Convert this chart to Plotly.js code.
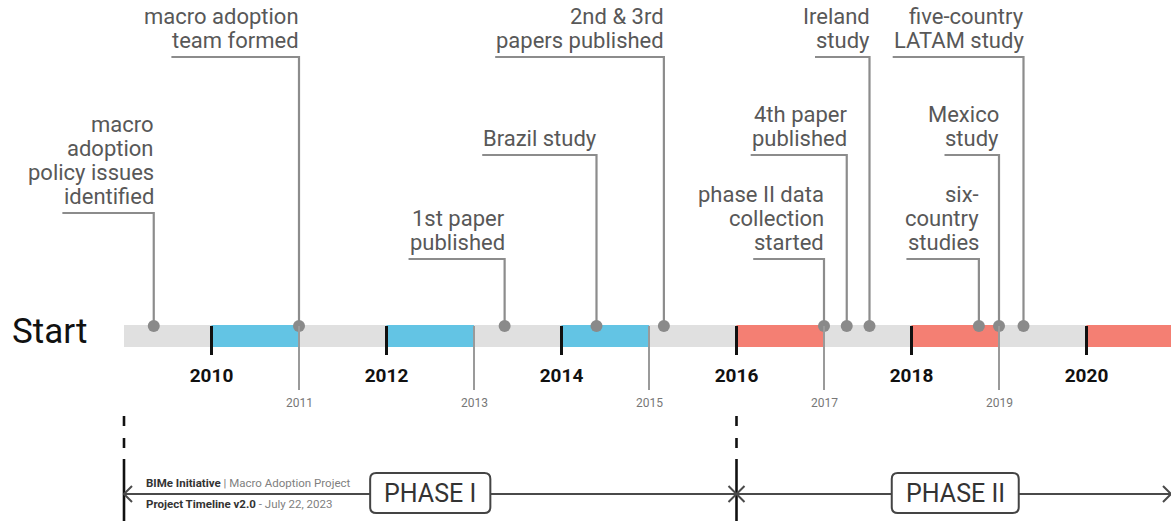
<!DOCTYPE html>
<html><head><meta charset="utf-8">
<script src="https://cdn.plot.ly/plotly-3.0.1.min.js"></script>
<style>html,body{margin:0;padding:0;background:#fff;} #chart{width:1171px;height:521px;}</style>
</head><body><div id="chart"></div>
<script>
// ---------------- DATA ----------------
const eventDates = [2009.34, 2011.0, 2013.35, 2014.4, 2015.17, 2017.0, 2017.26, 2017.52, 2018.77, 2019.0, 2019.28];
const eventLabels = [
  "macro\nadoption\npolicy issues\nidentified",
  "macro adoption\nteam formed",
  "1st paper\npublished",
  "Brazil study",
  "2nd & 3rd\npapers published",
  "phase II data\ncollection\nstarted",
  "4th paper\npublished",
  "Ireland\nstudy",
  "six-\ncountry\nstudies",
  "Mexico\nstudy",
  "five-country\nLATAM study"
];
const majorYears = [2010, 2012, 2014, 2016, 2018, 2020];
const majorLabels = ["2010", "2012", "2014", "2016", "2018", "2020"];
const minorYears = [2011, 2013, 2015, 2017, 2019];
const minorLabels = ["2011", "2013", "2015", "2017", "2019"];
const phaseNames = ["PHASE I", "PHASE II"];
const phaseStarts = [2009, 2016];
const phaseEnds = [2016, 2021];
const highlightStarts = [2010, 2012, 2014, 2016, 2018, 2020];
const highlightEnds = [2011, 2013, 2015, 2017, 2019, 2021];
const highlightPhase = [0, 0, 0, 1, 1, 1];
const startLabel = "Start";
const creditTitle = "BIMe Initiative";
const creditProject = "Macro Adoption Project";
const creditTimeline = "Project Timeline v2.0";
const creditDate = "July 22, 2023";

// ---------------- LAYOUT CONSTANTS ----------------
const W = 1171, H = 521;
const PX_PER_YEAR = 87.5, START_PX = 124;
const xRange = [phaseStarts[0] - START_PX / PX_PER_YEAR, phaseStarts[0] + (W - START_PX) / PX_PER_YEAR];
const labelRowY = [213, 57, 259, 155, 57, 259, 155, 57, 259, 155, 57];
const BAR_TOP = 325, BAR_BOT = 347, DOT_Y = 326;
const ARROW_Y = 494;
const FONT = "Roboto, 'Liberation Sans', sans-serif";
const LABEL_SIZE = 22, LINE_GAP = 24;
const phaseColors = ["#63c4e4", "#f47f73"];
const leaderColor = "#8c8c8c";

const cv = document.createElement("canvas").getContext("2d");
function textWidth(t, size, weight) {
  cv.font = (weight || "normal") + " " + size + "px Roboto";
  return cv.measureText(t).width;
}

// ---------------- TRACES ----------------
const lx = [], ly = [];
eventDates.forEach((d, i) => {
  const lines = eventLabels[i].split("\n");
  const w = textWidth(lines[lines.length - 1], LABEL_SIZE) + 1;
  lx.push(d - w / PX_PER_YEAR, d, d, null);
  ly.push(labelRowY[i], labelRowY[i], DOT_Y, null);
});
const traces = [
  { type: "scatter", mode: "lines", x: lx, y: ly, line: { color: leaderColor, width: 2.2 }, hoverinfo: "skip", showlegend: false },
  { type: "scatter", mode: "markers", x: eventDates, y: eventDates.map(() => DOT_Y),
    marker: { size: 12, color: "#8a8a8a" }, hoverinfo: "skip", showlegend: false }
];

// ---------------- SHAPES ----------------
const shapes = [];
shapes.push({ type: "rect", layer: "below", xref: "x", yref: "y", x0: phaseStarts[0], x1: phaseEnds[1], y0: BAR_TOP, y1: BAR_BOT,
  fillcolor: "#e0e0e0", line: { width: 0 } });
highlightStarts.forEach((s, i) => {
  shapes.push({ type: "rect", layer: "below", xref: "x", yref: "y", x0: s, x1: highlightEnds[i], y0: BAR_TOP, y1: BAR_BOT,
    fillcolor: phaseColors[highlightPhase[i]], line: { width: 0 } });
});
phaseStarts.forEach(p => {
  shapes.push({ type: "line", xref: "x", yref: "y", x0: p, x1: p, y0: 416, y1: 450, line: { color: "#111", width: 2.6, dash: "10px,12px" } });
  shapes.push({ type: "line", xref: "x", yref: "y", x0: p, x1: p, y0: 459, y1: H, line: { color: "#111", width: 2.6 } });
});
shapes.push({ type: "line", xref: "x", yref: "y", x0: phaseStarts[0], x1: phaseEnds[1], y0: ARROW_Y, y1: ARROW_Y, line: { color: "#4a4a4a", width: 2 } });
function chevron(xa, dir, xref) {
  return { type: "path", xref: xref || "x", yref: "y", xsizemode: "pixel", ysizemode: "pixel", xanchor: xa, yanchor: ARROW_Y,
    path: `M${8 * dir},-8 L0,0 L${8 * dir},8`, line: { color: "#4a4a4a", width: 2 } };
}
shapes.push(chevron(phaseStarts[0], 1));
shapes.push(chevron(phaseStarts[1], -1));
shapes.push(chevron(phaseStarts[1], 1));
shapes.push(chevron(1, -1, "paper"));
// phase boxes
const PHASE_SIZE = 25;
phaseNames.forEach((n, i) => {
  const hw = (textWidth(n, PHASE_SIZE) + 28) / 2, hh = 20, r = 6;
  const p = `M${-hw + r},${-hh} L${hw - r},${-hh} Q${hw},${-hh} ${hw},${-hh + r} L${hw},${hh - r} Q${hw},${hh} ${hw - r},${hh} ` +
            `L${-hw + r},${hh} Q${-hw},${hh} ${-hw},${hh - r} L${-hw},${-hh + r} Q${-hw},${-hh} ${-hw + r},${-hh} Z`;
  shapes.push({ type: "path", xref: "x", yref: "y", xsizemode: "pixel", ysizemode: "pixel",
    xanchor: (phaseStarts[i] + phaseEnds[i]) / 2, yanchor: 493, path: p,
    fillcolor: "#ffffff", line: { color: "#444", width: 2 } });
});

// ---------------- ANNOTATIONS ----------------
const ann = [];
ann.push({ xref: "paper", yref: "y", x: 10 / W, y: 331, xanchor: "left", yanchor: "middle", showarrow: false,
  text: startLabel, font: { family: FONT, size: 35, color: "#111" } });
eventDates.forEach((d, i) => {
  const lines = eventLabels[i].split("\n");
  lines.forEach((t, j) => {
    ann.push({ xref: "x", yref: "y", x: d, y: labelRowY[i] - 17 - (lines.length - 1 - j) * LINE_GAP,
      xanchor: "right", yanchor: "middle", xshift: 2, showarrow: false, text: t,
      font: { family: FONT, size: LABEL_SIZE, color: "#585858" } });
  });
});
minorYears.forEach((y, i) => {
  ann.push({ xref: "x", yref: "y", x: y, y: 403, xanchor: "center", yanchor: "middle", showarrow: false,
    text: minorLabels[i], font: { family: FONT, size: 12, color: "#777" } });
});
phaseNames.forEach((n, i) => {
  ann.push({ xref: "x", yref: "y", x: (phaseStarts[i] + phaseEnds[i]) / 2, y: 493, xanchor: "center", yanchor: "middle",
    showarrow: false, text: n, font: { family: FONT, size: PHASE_SIZE, color: "#333" } });
});
ann.push({ xref: "paper", yref: "y", x: 144 / W, y: 483, xanchor: "left", yanchor: "middle", showarrow: false,
  text: `<b>${creditTitle}</b> <span style="color:#808080">| ${creditProject}</span>`, font: { family: FONT, size: 11.5, color: "#333" } });
ann.push({ xref: "paper", yref: "y", x: 144 / W, y: 504, xanchor: "left", yanchor: "middle", showarrow: false,
  text: `<b>${creditTimeline}</b> <span style="color:#808080">- ${creditDate}</span>`, font: { family: FONT, size: 11.5, color: "#333" } });

const layout = {
  width: W, height: H, margin: { l: 0, r: 0, t: 0, b: 0 },
  paper_bgcolor: "#fff", plot_bgcolor: "#fff", showlegend: false,
  xaxis: { range: xRange, anchor: "free", position: (H - BAR_TOP) / H, showline: false, showgrid: false, zeroline: false,
    tickmode: "array", tickvals: majorYears, ticktext: majorLabels, ticks: "outside", ticklen: 29, tickwidth: 3.5, tickcolor: "#111",
    tickfont: { family: FONT, size: 19, color: "#111", weight: "bold" }, ticklabelstandoff: 4,
    minor: { tickmode: "array", tickvals: minorYears, ticks: "outside", ticklen: 64, tickwidth: 2, tickcolor: "#9a9a9a", showgrid: false },
    fixedrange: true, automargin: false },
  yaxis: { range: [H, 0], visible: false, fixedrange: true, showgrid: false, zeroline: false },
  shapes: shapes, annotations: ann
};
Plotly.newPlot("chart", traces, layout, { displayModeBar: false, staticPlot: true });
</script>
</body></html>
